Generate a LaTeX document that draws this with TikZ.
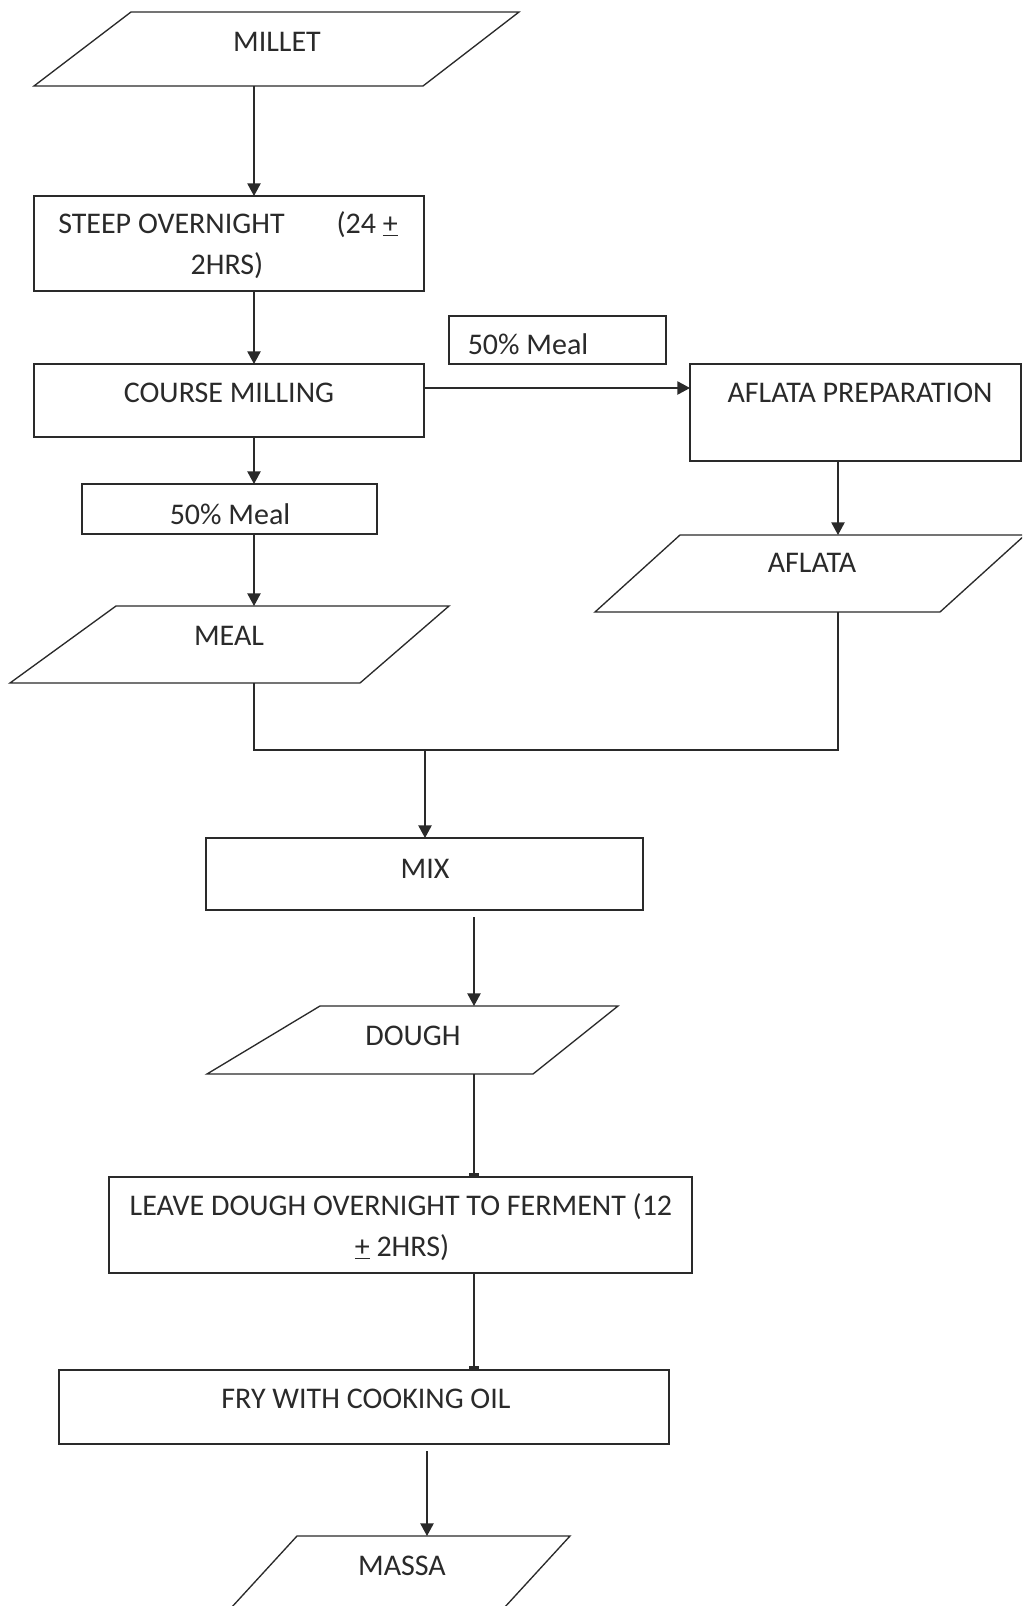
\documentclass[tikz,border=0pt]{standalone}
\usepackage{fontspec}
\setmainfont{Carlito}
\usetikzlibrary{arrows.meta,fit}
\definecolor{ink}{HTML}{2A2A2A}
\begin{document}
\begin{tikzpicture}[x=0.75pt,y=-0.75pt,
  box/.style={draw=ink, line width=1pt, inner sep=0pt, outer sep=0pt},
  pgram/.style={draw=ink, line width=1pt, line join=miter},
  lbl/.style={font=\fontsize{22.5}{26}\selectfont, text=ink, inner sep=0pt, text height=14pt, text depth=0pt},
  arr/.style={draw=ink, line width=1pt, -{Triangle[length=9.5pt,width=10pt]}},
  barend/.style={draw=ink, line width=1pt, -{Bar[width=8pt,line width=3pt]}},
  plain/.style={draw=ink, line width=1pt}]
\useasboundingbox (0,0) rectangle (1022,1606);
\clip (0,0) rectangle (1022,1606);
\fill[white] (0,0) rectangle (1022,1606);

% ---- MILLET (parallelogram)
\coordinate (milletTL) at (131,12); \coordinate (milletTR) at (519,12);
\coordinate (milletBR) at (423,86); \coordinate (milletBL) at (34,86);
\draw[pgram] (milletBL) -- (milletTL) -- (milletTR) -- (milletBR) -- cycle;
\coordinate (milletout) at (254,86);
\node[lbl] (millett) at (277,42) {MILLET};

% ---- STEEP OVERNIGHT
\node[box, fit={(34,196) (424,291)}] (steep) {};
\node[lbl, anchor=west] (steep1) at (58,224) {STEEP OVERNIGHT};
\node[lbl, anchor=east] (steep2) at (398,224) {(24 \underline{+}};
\node[lbl] (steep3) at (227,265) {2HRS)};

% ---- COURSE MILLING
\node[box, fit={(34,364) (424,437)}] (cm) {};
\node[lbl] (cmt) at (229,393) {COURSE MILLING};

% ---- 50% Meal (upper)
\node[box, fit={(449,316) (666,364)}] (mtop) {};
\node[lbl] (mtopt) at (528,345) {50\% Meal};

% ---- AFLATA PREPARATION
\node[box, fit={(690,364) (1021,461)}] (afp) {};
\node[lbl] (afpt) at (860,393) {AFLATA PREPARATION};

% ---- 50% Meal (lower)
\node[box, fit={(82,484) (377,534)}] (mlow) {};
\node[lbl] (mlowt) at (230,515) {50\% Meal};

% ---- MEAL (parallelogram)
\coordinate (mealTL) at (116,606); \coordinate (mealTR) at (449,606);
\coordinate (mealBR) at (360,683); \coordinate (mealBL) at (10,683);
\draw[pgram] (mealBL) -- (mealTL) -- (mealTR) -- (mealBR) -- cycle;
\coordinate (mealin) at (254,606);
\coordinate (mealout) at (254,683);
\node[lbl] (mealt) at (229,636) {MEAL};

% ---- AFLATA (parallelogram)
\coordinate (aflTL) at (680,535); \coordinate (aflTR) at (1025,535);
\coordinate (aflBR) at (940,612); \coordinate (aflBL) at (595,612);
\draw[pgram] (aflBL) -- (aflTL) -- (aflTR) -- (aflBR) -- cycle;
\coordinate (aflin) at (838,535);
\coordinate (aflout) at (838,612);
\node[lbl] (aflt) at (812,563) {AFLATA};

% ---- junction
\coordinate (jl) at (254,750);
\coordinate (jr) at (838,750);
\coordinate (jm) at (425,750);

% ---- MIX
\node[box, fit={(206,838) (643,910)}] (mix) {};
\node[lbl] (mixt) at (425,869) {MIX};
\coordinate (mixout) at (474,917);

% ---- DOUGH (parallelogram)
\coordinate (doTL) at (320,1006); \coordinate (doTR) at (618,1006);
\coordinate (doBR) at (533,1074); \coordinate (doBL) at (207,1074);
\draw[pgram] (doBL) -- (doTL) -- (doTR) -- (doBR) -- cycle;
\coordinate (doin) at (474,1006);
\coordinate (doout) at (474,1074);
\node[lbl] (dot) at (413,1036) {DOUGH};

% ---- LEAVE DOUGH
\node[box, fit={(109,1177) (692,1273)}] (leave) {};
\node[lbl] (leave1) at (401,1206) {LEAVE DOUGH OVERNIGHT TO FERMENT (12};
\node[lbl] (leave2) at (402,1247) {\underline{+} 2HRS)};

% ---- FRY
\node[box, fit={(59,1370) (669,1444)}] (fry) {};
\node[lbl] (fryt) at (366,1399) {FRY WITH COOKING OIL};
\coordinate (fryout) at (427,1451);

% ---- MASSA (parallelogram, cut by the page edge)
\coordinate (maTL) at (297,1536); \coordinate (maTR) at (570,1536);
\coordinate (maBR) at (493,1620); \coordinate (maBL) at (220,1620);
\draw[pgram] (maBL) -- (maTL) -- (maTR) -- (maBR) -- cycle;
\coordinate (main) at (427,1536);
\node[lbl] (mat) at (402,1566) {MASSA};

% ---- connectors
\draw[arr] (milletout) -- (steep.north -| milletout);
\draw[arr] (steep.south -| milletout) -- (cm.north -| milletout);
\draw[arr] (cm.east |- 0,388) -- (afp.west |- 0,388);
\draw[arr] (cm.south -| milletout) -- (mlow.north -| milletout);
\draw[arr] (mlow.south -| milletout) -- (mealin);
\draw[arr] (afp.south -| aflin) -- (aflin);
\draw[plain] (mealout) -- (jl) -- (jr) -- (aflout);
\draw[arr] (jm) -- (mix.north -| jm);
\draw[arr] (mixout) -- (doin);
\draw[barend] (doout) -- (leave.north -| doout);
\draw[barend] (leave.south -| doout) -- (fry.north -| doout);
\draw[arr] (fryout) -- (main);
\end{tikzpicture}
\end{document}
